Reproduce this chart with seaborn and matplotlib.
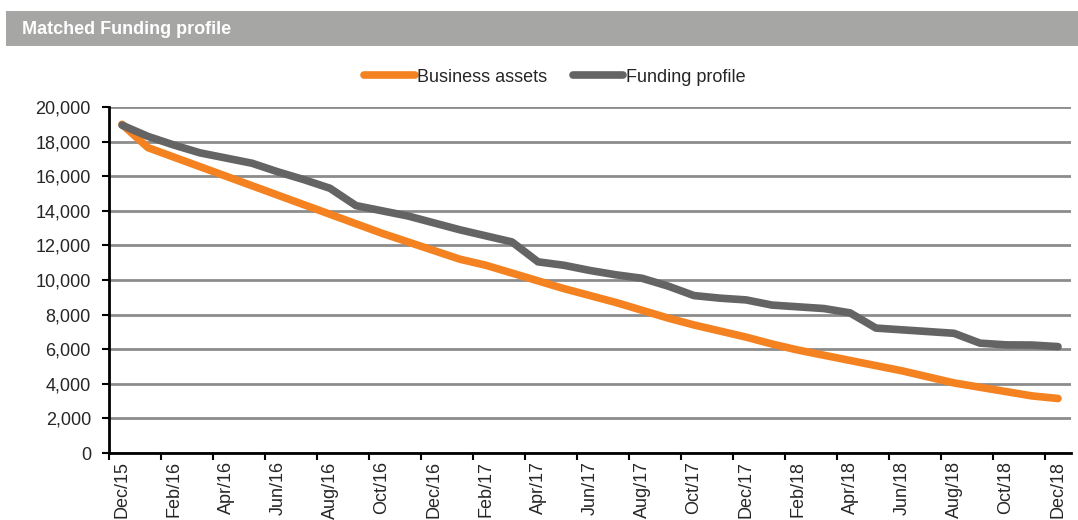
import matplotlib
matplotlib.use("Agg")
import matplotlib.pyplot as plt
from matplotlib.patches import Rectangle
from matplotlib.lines import Line2D
from matplotlib.ticker import FuncFormatter, FixedLocator
import seaborn as sns
import pandas as pd
import numpy as np

months = ["Dec/15", "Jan/16", "Feb/16", "Mar/16", "Apr/16", "May/16", "Jun/16", "Jul/16",
          "Aug/16", "Sep/16", "Oct/16", "Nov/16", "Dec/16", "Jan/17", "Feb/17", "Mar/17",
          "Apr/17", "May/17", "Jun/17", "Jul/17", "Aug/17", "Sep/17", "Oct/17", "Nov/17",
          "Dec/17", "Jan/18", "Feb/18", "Mar/18", "Apr/18", "May/18", "Jun/18", "Jul/18",
          "Aug/18", "Sep/18", "Oct/18", "Nov/18", "Dec/18"]

business_assets = [19000, 17650, 17100, 16550, 16000, 15450, 14900, 14350,
                   13800, 13250, 12700, 12200, 11700, 11200, 10850, 10400,
                   9950, 9500, 9100, 8700, 8250, 7800, 7400, 7050,
                   6700, 6300, 5950, 5650, 5350, 5050, 4750, 4400,
                   4050, 3800, 3550, 3300, 3150]

funding_profile = [18950, 18300, 17800, 17350, 17050, 16750, 16250, 15800,
                   15300, 14300, 14000, 13700, 13300, 12900, 12550, 12200,
                   11050, 10850, 10550, 10300, 10100, 9650, 9100, 8950,
                   8850, 8550, 8450, 8350, 8100, 7220, 7120, 7020,
                   6920, 6350, 6250, 6240, 6150]

series_names = ["Business assets", "Funding profile"]
colors = ["#F58220", "#646464"]

title = "Matched Funding profile"

df = pd.DataFrame({
    "idx": list(range(len(months))) * 2,
    "value": business_assets + funding_profile,
    "series": [series_names[0]] * len(months) + [series_names[1]] * len(months),
})

sns.set_theme(style="white")
plt.rcParams["font.family"] = ["Liberation Sans", "DejaVu Sans"]

fig = plt.figure(figsize=(10.78, 5.2), dpi=100)
ax = fig.add_axes([109 / 1078, 1 - 453 / 520, (1071 - 109) / 1078, (453 - 107) / 520])

sns.lineplot(data=df, x="idx", y="value", hue="series", palette=colors,
             hue_order=series_names, linewidth=5.5, ax=ax, legend=False,
             solid_capstyle="round", solid_joinstyle="round")

ax.set_xlim(-0.5, len(months) - 0.5)
ax.set_ylim(0, 20000)
ax.set_yticks(np.arange(0, 20001, 2000))
ax.yaxis.set_major_formatter(FuncFormatter(lambda v, p: f"{int(v):,}"))
ax.yaxis.grid(True, color="#8C8C8C", linewidth=2)
ax.set_axisbelow(True)

major = list(range(0, len(months), 2))
ax.set_xticks(major)
ax.set_xticklabels([months[i] for i in major], rotation=90, fontsize=13)
ax.xaxis.set_minor_locator(FixedLocator([i - 0.5 for i in major]))
ax.tick_params(axis="x", which="major", length=0, pad=6)
ax.tick_params(axis="x", which="minor", length=5, width=1.5, color="black", direction="out", bottom=True)
ax.tick_params(axis="y", which="major", length=5, width=1.5, color="black", direction="out",
               left=True, labelsize=13, pad=8)

ax.set_xlabel("")
ax.set_ylabel("")
for s in ["top", "right"]:
    ax.spines[s].set_visible(False)
for s in ["left", "bottom"]:
    ax.spines[s].set_color("black")
    ax.spines[s].set_linewidth(2)

# Title bar
fig.patches.append(Rectangle((6 / 1078, 1 - 46 / 520), 1 - 6 / 1078, 35 / 520,
                             transform=fig.transFigure, facecolor="#A6A6A5",
                             edgecolor="none", zorder=0))
fig.text(22 / 1078, 1 - 29 / 520, title, color="white", fontsize=13,
         fontweight="bold", va="center", ha="left")

# Legend
handles = [Line2D([0], [0], color=c, linewidth=5.5, solid_capstyle="round") for c in colors]
fig.legend(handles, series_names, loc="center", bbox_to_anchor=(555 / 1078, 1 - 77 / 520),
           ncol=2, frameon=False, fontsize=13, handlelength=2.8, handletextpad=0.15,
           columnspacing=1.4)

fig.savefig("out.png", dpi=100, facecolor="white")
